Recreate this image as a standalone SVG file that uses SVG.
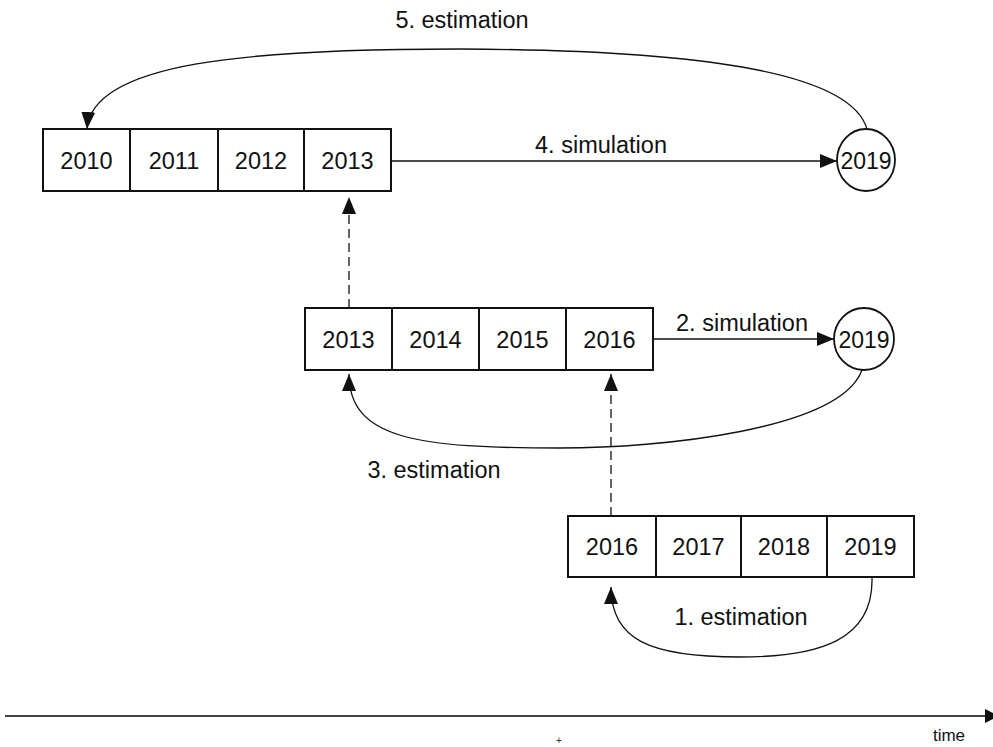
<svg xmlns="http://www.w3.org/2000/svg" width="993" height="747" viewBox="0 0 993 747">
<style>
text{font-family:"Liberation Sans",Arial,sans-serif;fill:#111;}
.cell{fill:#fff;stroke:#111;stroke-width:2;}
.yr{font-size:23.5px;text-anchor:middle;dominant-baseline:central;}
.lbl{font-size:23.5px;text-anchor:middle;}
.circ{fill:#fff;stroke:#111;stroke-width:1.8;}
.cyr{font-size:23px;text-anchor:middle;dominant-baseline:central;}
.edge{fill:none;stroke:#111;stroke-width:1.3;}
.dash{fill:none;stroke:#111;stroke-width:1.3;stroke-dasharray:9 5;}
</style>
<defs>
<marker id="ah" markerUnits="userSpaceOnUse" markerWidth="18" markerHeight="15" refX="17" refY="7" orient="auto">
<path d="M0,0 L17,7 L0,14 z" fill="#111"/>
</marker>
</defs>
<rect width="993" height="747" fill="#fff"/>

<g id="row-top">
<rect class="cell" x="43" y="129" width="87" height="62"/>
<rect class="cell" x="130" y="129" width="88" height="62"/>
<rect class="cell" x="218" y="129" width="86" height="62"/>
<rect class="cell" x="304" y="129" width="87" height="62"/>
<text class="yr" x="86.5" y="161">2010</text>
<text class="yr" x="174" y="161">2011</text>
<text class="yr" x="261" y="161">2012</text>
<text class="yr" x="347.5" y="161">2013</text>
</g>
<g id="circle-top">
<ellipse class="circ" cx="866" cy="160" rx="29" ry="31"/>
<text class="cyr" x="866" y="161">2019</text>
</g>

<g id="row-mid">
<rect class="cell" x="305" y="308" width="87" height="62"/>
<rect class="cell" x="392" y="308" width="87" height="62"/>
<rect class="cell" x="479" y="308" width="87" height="62"/>
<rect class="cell" x="566" y="308" width="87" height="62"/>
<text class="yr" x="348.5" y="340">2013</text>
<text class="yr" x="435.5" y="340">2014</text>
<text class="yr" x="522.5" y="340">2015</text>
<text class="yr" x="609.5" y="340">2016</text>
</g>
<g id="circle-mid">
<ellipse class="circ" cx="864" cy="339" rx="30" ry="31"/>
<text class="cyr" x="864" y="340">2019</text>
</g>

<g id="row-bottom">
<rect class="cell" x="568" y="516" width="88" height="61"/>
<rect class="cell" x="656" y="516" width="85" height="61"/>
<rect class="cell" x="741" y="516" width="86" height="61"/>
<rect class="cell" x="827" y="516" width="87" height="61"/>
<text class="yr" x="612" y="547">2016</text>
<text class="yr" x="698.5" y="547">2017</text>
<text class="yr" x="784" y="547">2018</text>
<text class="yr" x="870.5" y="547">2019</text>
</g>

<g id="connectors">
<path class="edge" d="M391,161 L837,161" marker-end="url(#ah)"/>
<path class="edge" d="M653,339 L834,339" marker-end="url(#ah)"/>
<path class="edge" d="M867,129 C850,70 690,50 460,49 C250,49 92,62 87,129" marker-end="url(#ah)"/>
<path class="edge" d="M862,370 C840,430 660,448 560,448 C420,448 349,440 349,374" marker-end="url(#ah)"/>
<path class="edge" d="M872,577 C874,640 820,657 740,657 C650,657 611,640 611,587" marker-end="url(#ah)"/>
<path class="dash" d="M349,308 L349,197" marker-end="url(#ah)"/>
<path class="dash" d="M611,516 L611,374" marker-end="url(#ah)"/>
</g>

<g id="labels">
<text class="lbl" x="462" y="28">5. estimation</text>
<text class="lbl" x="601" y="153">4. simulation</text>
<text class="lbl" x="742" y="331">2. simulation</text>
<text class="lbl" x="434" y="478">3. estimation</text>
<text class="lbl" x="741" y="625">1. estimation</text>
</g>

<g id="axis">
<line x1="5" y1="716" x2="986" y2="716" stroke="#444" stroke-width="2"/>
<polygon points="985,709 999,716 985,723" fill="#111"/>
<text x="949" y="741" font-size="17" text-anchor="middle">time</text>
<text x="559" y="744" font-size="10" text-anchor="middle" style="fill:#333">+</text>
</g>
</svg>
